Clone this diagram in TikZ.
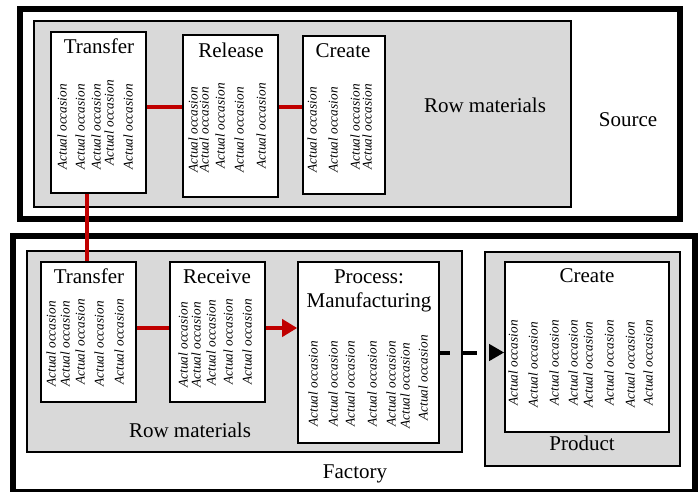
\documentclass[tikz,border=0pt]{standalone}
\usepackage{fontspec}
\setmainfont{Liberation Serif}
\usetikzlibrary{arrows.meta}
\definecolor{panelgray}{HTML}{D9D9D9}
\definecolor{linkred}{HTML}{C00000}

\begin{document}
\begin{tikzpicture}[x=1pt,y=-1pt,
  frame/.style={draw=black, line width=5.5pt, inner sep=0pt},
  panel/.style={draw=black, fill=panelgray, line width=1.4pt, inner sep=0pt},
  card/.style={draw=black, fill=white, line width=1.6pt, inner sep=0pt},
  title/.style={anchor=base, inner sep=0pt, font=\fontsize{21}{24}\selectfont},
  occ/.style={rotate=90, inner sep=0pt, font=\fontsize{13.3}{15}\selectfont\itshape},
  link/.style={draw=linkred, line width=4pt},
  flow/.style={draw=black, line width=4pt},
]
\useasboundingbox (0,0) rectangle (699,491);

% ---------- Source ----------
\node[frame, minimum width=660pt, minimum height=210pt] (source) at (350,114) {};
\node[panel, minimum width=537pt, minimum height=186pt] (rawtop) at (302.5,114) {};
\node[card, minimum width=95pt, minimum height=161pt] (ttransfer) at (98.5,112.5) {};
\node[card, minimum width=95pt, minimum height=162pt] (trelease) at (230.5,116) {};
\node[card, minimum width=82pt, minimum height=158pt] (tcreate) at (344,115) {};

\node[title] (ttransferlbl) at (99,53) {Transfer};
\node[title] (treleaselbl) at (231,57) {Release};
\node[title] (tcreatelbl) at (343,57) {Create};
\node[title] (rawtoplbl) at (485,112) {Row materials};
\node[title] (sourcelbl) at (628,126) {Source};

\foreach \x/\y [count=\i] in {62/127, 80/127, 96/127, 109/123, 128/127}
  \node[occ] (tta\i) at (\x,\y) {Actual occasion};
\foreach \x/\y [count=\i] in {193/130, 204/130, 220/126, 239/130, 261/126}
  \node[occ] (tra\i) at (\x,\y) {Actual occasion};
\foreach \x/\y [count=\i] in {312/130, 333/130, 355/127, 367/127}
  \node[occ] (tca\i) at (\x,\y) {Actual occasion};

% ---------- Factory (bottom edge runs off the page) ----------
\node[frame, minimum width=682pt, minimum height=256pt] (factory) at (354,364) {};
\node[panel, minimum width=435pt, minimum height=201pt] (rawbot) at (244.5,351.5) {};
\node[card, minimum width=95pt, minimum height=140pt] (btransfer) at (88.5,332) {};
\node[card, minimum width=95pt, minimum height=140pt] (breceive) at (217.5,332) {};
\node[card, minimum width=141pt, minimum height=181pt] (bprocess) at (368.5,352.5) {};
\node[panel, minimum width=195pt, minimum height=214pt] (product) at (582.5,359) {};
\node[card, minimum width=164pt, minimum height=170pt] (bcreate) at (587,347) {};

\node[title] (btransferlbl) at (89,283) {Transfer};
\node[title] (breceivelbl) at (217,283) {Receive};
\node[title] (bprocesslbl) at (369,283) {Process:};
\node[title] (bmanuflbl) at (369,307) {Manufacturing};
\node[title] (bcreatelbl) at (587,282) {Create};
\node[title] (productlbl) at (582,450) {Product};
\node[title] (factorylbl) at (355,478) {Factory};
\node[title] (rawbotlbl) at (190,437) {Row materials};

\foreach \x/\y [count=\i] in {51/344, 65/344, 80/342, 99/344, 119/342}
  \node[occ] (bta\i) at (\x,\y) {Actual occasion};
\foreach \x/\y [count=\i] in {183/345, 196/345, 211/343, 228/342, 247/342}
  \node[occ] (bra\i) at (\x,\y) {Actual occasion};
\foreach \x/\y [count=\i] in {313/384, 333/384, 350/384, 372/384, 391/384, 405/386, 423/378}
  \node[occ] (bpa\i) at (\x,\y) {Actual occasion};
\foreach \x/\y [count=\i] in {513/363, 533/365, 554/363, 573/363, 588/365, 609/363, 630/365, 648/363}
  \node[occ] (bca\i) at (\x,\y) {Actual occasion};

% ---------- Connectors ----------
\coordinate (toprow) at (0,107);
\coordinate (botrow) at (0,328);
\coordinate (drop) at (87,0);

\draw[link] (ttransfer.east |- toprow) -- (trelease.west |- toprow);
\draw[link] (trelease.east |- toprow) -- (tcreate.west |- toprow);
\draw[link] (ttransfer.south -| drop) -- (btransfer.north -| drop);
\draw[link] (btransfer.east |- botrow) -- (breceive.west |- botrow);
\draw[link, -{Triangle[length=15pt,width=17pt]}] (breceive.east |- botrow) -- (bprocess.west |- botrow);
\draw[flow, dash pattern=on 10pt off 12pt on 15pt off 14pt, -{Triangle[length=15pt,width=16pt]}]
  (bprocess.east) -- (bcreate.west |- bprocess.east);
\end{tikzpicture}
\end{document}
